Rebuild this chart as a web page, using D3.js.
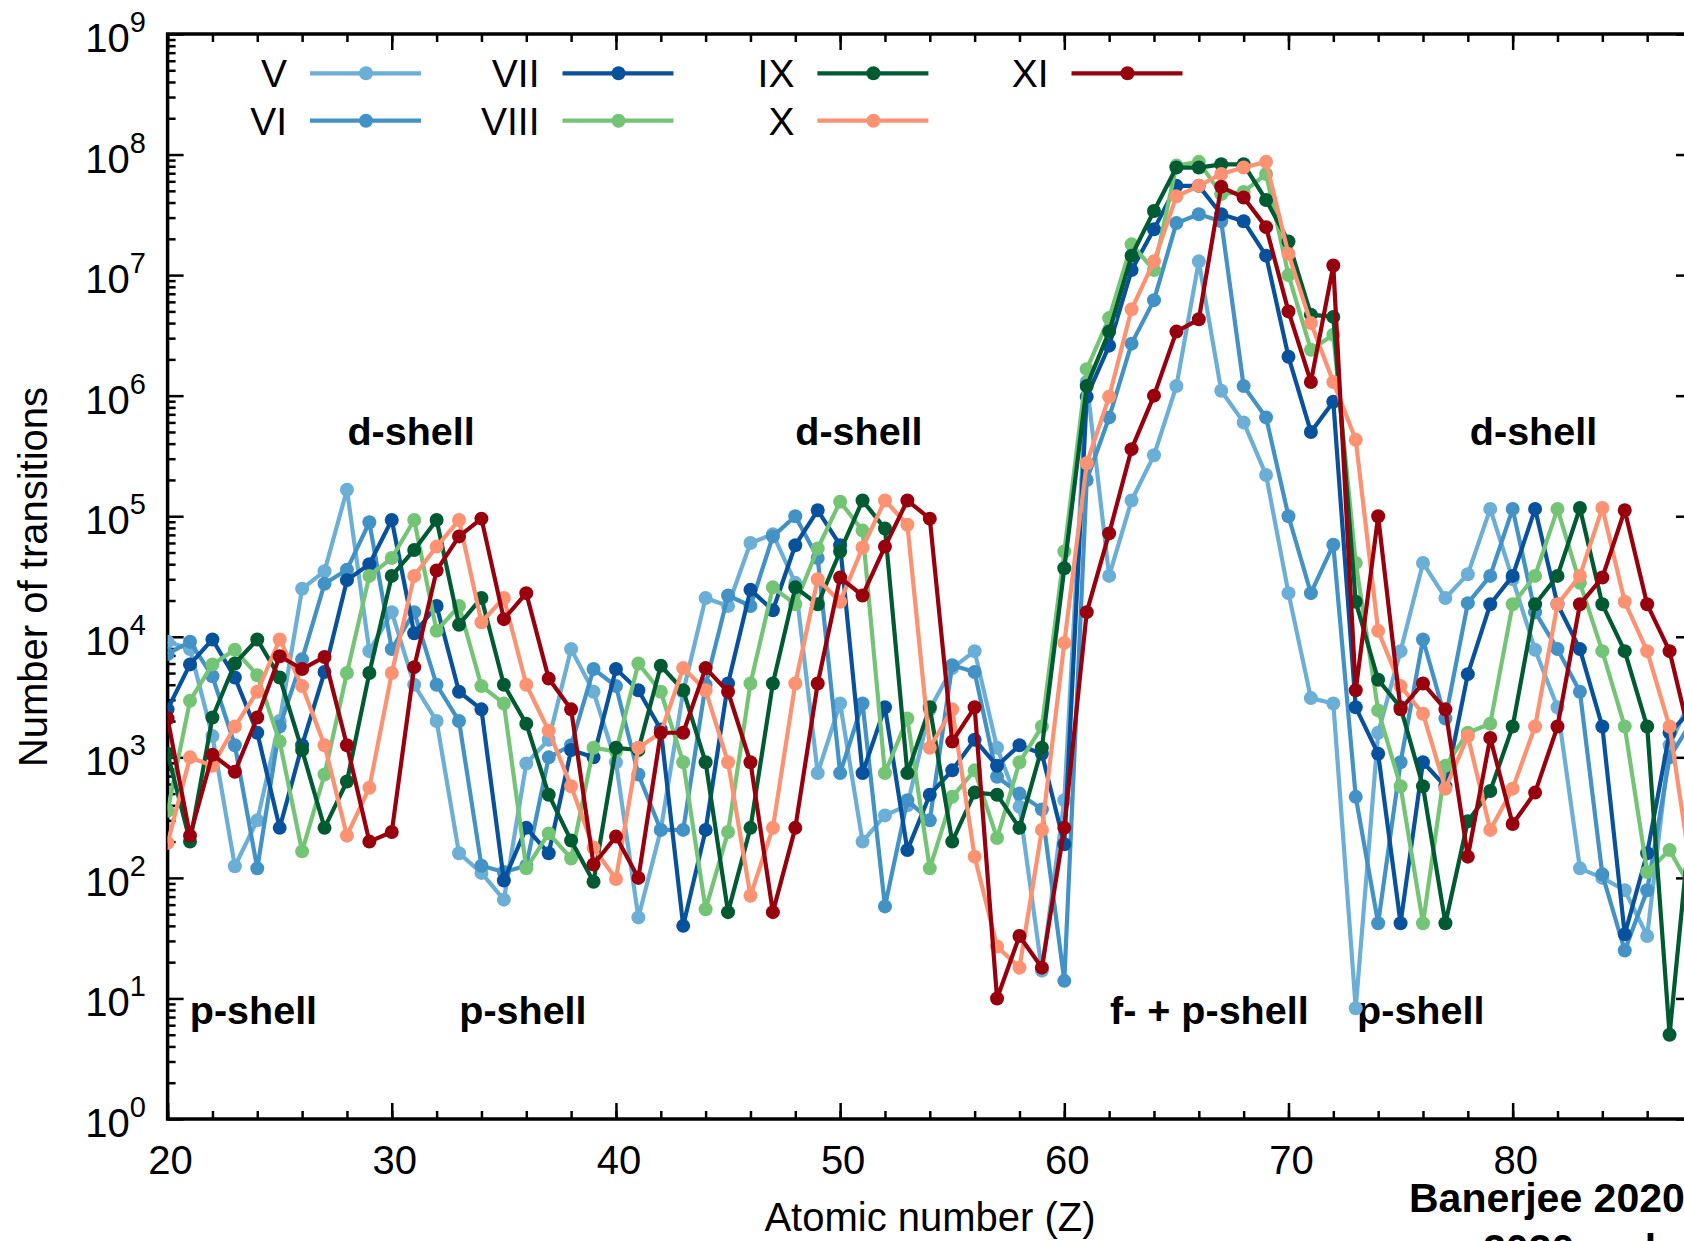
<!DOCTYPE html>
<html>
<head>
<meta charset="utf-8">
<script src="https://cdn.jsdelivr.net/npm/d3@7/dist/d3.min.js"></script>
<style>
  body { margin: 0; background: #fff; }
  svg { display: block; }
  text { font-family: "Liberation Sans", Arial, Helvetica, sans-serif; fill: #000; }
  .note { font-weight: bold; }
</style>
</head>
<body>
<div id="chart"></div>
<script>
/* globals d3:false */

// ---- data -------------------------------------------------------------
const atomicNumbers = [20, 21, 22, 23, 24, 25, 26, 27, 28, 29, 30, 31, 32, 33, 34, 35, 36, 37, 38, 39,
  40, 41, 42, 43, 44, 45, 46, 47, 48, 49, 50, 51, 52, 53, 54, 55, 56, 57, 58, 59,
  60, 61, 62, 63, 64, 65, 66, 67, 68, 69, 70, 71, 72, 73, 74, 75, 76, 77, 78, 79,
  80, 81, 82, 83, 84, 85, 86, 87, 88];

const ionV = [9100, 7900, 1500, 125, 300, 2000, 25000, 35000, 166000, 7600,
  16000, 4000, 2000, 160, 110, 66, 890, 1400, 7900, 3500,
  910, 47, 250, 3500, 21000, 18000, 60000, 71000, 28000, 740,
  2800, 200, 330, 400, 2500, 5500, 7600, 1200, 390, 17,
  440, 1.3e6, 32000, 135000, 320000, 1.2e6, 1.3e7, 1.1e6, 6.0e5, 2.2e5,
  23000, 3100, 2800, 8.3, 1600, 7600, 41000, 21000, 33000, 115000,
  30000, 7800, 2600, 120, 100, 79, 33, 1260, 3200];

const ionVI = [7200, 9100, 4700, 1260, 120, 1800, 6500, 27500, 36000, 89000,
  7900, 16000, 4000, 2000, 126, 112, 126, 1000, 1260, 5400,
  3900, 720, 250, 250, 4000, 22000, 18000, 68000, 100000, 45000,
  740, 2800, 58, 440, 300, 5800, 5100, 690, 500, 370,
  14, 200000, 660000, 2.7e6, 6.2e6, 2.7e7, 3.2e7, 2.8e7, 1.2e6, 6.6e5,
  100000, 23000, 58000, 470, 42, 910, 9500, 2100, 19000, 32000,
  115000, 16000, 7900, 3500, 107, 25, 79, 1000, 2000];

const ionVII = [2500, 5900, 9500, 4600, 1600, 260, 1260, 5100, 29500, 40000,
  93000, 10700, 18000, 3500, 2500, 95, 260, 160, 1150, 1000,
  5400, 3600, 1700, 40, 250, 4100, 24500, 16600, 57500, 112000,
  57500, 740, 2600, 170, 490, 780, 1400, 850, 1260, 1070,
  190, 980000, 2.6e6, 1.1e7, 2.4e7, 5.5e7, 5.5e7, 3.2e7, 2.8e7, 1.45e7,
  2.1e6, 5.0e5, 8.9e5, 2600, 1070, 42, 910, 575, 4900, 18600,
  32000, 115000, 18600, 7900, 1800, 34, 160, 1600, 2500];

const ionVIII = [360, 2950, 5900, 7800, 4800, 1350, 166, 720, 5000, 32000,
  45000, 93000, 11200, 18000, 3900, 2800, 120, 234, 145, 1200,
  1120, 6000, 3500, 910, 55, 240, 4100, 25700, 18600, 54000,
  132000, 76000, 740, 2100, 120, 470, 780, 214, 910, 1800,
  51000, 1.66e6, 4.4e6, 1.8e7, 1.1e7, 8.1e7, 8.7e7, 4.7e7, 4.9e7, 6.9e7,
  1.0e7, 2.4e6, 3.2e6, 41000, 2450, 575, 42, 850, 1600, 1900,
  18600, 32000, 115000, 28000, 7600, 1800, 112, 170, 79];

const ionIX = [1070, 200, 2140, 6000, 9500, 4600, 1150, 260, 630, 5000,
  32000, 52500, 93000, 12600, 21000, 4000, 1900, 490, 204, 93,
  1200, 1150, 5750, 3600, 910, 52, 260, 4100, 25700, 18600,
  51000, 135000, 79000, 740, 2600, 200, 510, 490, 260, 1200,
  37000, 1.2e6, 3.4e6, 1.45e7, 3.4e7, 7.8e7, 7.8e7, 8.3e7, 8.3e7, 4.2e7,
  1.9e7, 4.7e6, 4.5e6, 19500, 4400, 2600, 575, 42, 295, 525,
  1800, 18600, 32000, 117000, 18600, 7600, 1800, 5, 400];

const ionX = [195, 1000, 850, 1800, 3500, 9500, 3900, 1260, 224, 560,
  5000, 32000, 56000, 93000, 13200, 21000, 4000, 1660, 575, 178,
  98, 1200, 1600, 5500, 3600, 910, 71, 260, 4100, 30000,
  19500, 55000, 135000, 85000, 1200, 2500, 150, 27, 18, 250,
  8900, 275000, 980000, 5.2e6, 1.3e7, 4.5e7, 5.5e7, 6.9e7, 7.8e7, 8.7e7,
  1.5e7, 4.0e6, 1.3e6, 4.3e5, 11200, 3900, 2300, 550, 1500, 250,
  550, 1800, 18600, 32000, 117000, 19500, 7600, 1800, 100];

const ionXI = [2100, 224, 1050, 760, 2140, 6900, 5400, 6800, 1260, 200,
  240, 5600, 35500, 68000, 95500, 14000, 23000, 4500, 2500, 129,
  220, 100, 1600, 1600, 5500, 3500, 910, 52, 260, 4100,
  31000, 22000, 56000, 135000, 95500, 1350, 2600, 10, 33, 18,
  260, 16000, 72000, 360000, 1.0e6, 3.4e6, 4.3e6, 5.4e7, 4.4e7, 2.5e7,
  5.0e6, 1.3e6, 1.2e7, 3600, 100000, 2500, 4100, 2500, 150, 1450,
  280, 510, 1800, 18600, 31000, 112000, 18600, 7600, 1260];

const ionNames = ['V', 'VI', 'VII', 'VIII', 'IX', 'X', 'XI'];
const ionColors = ['#6baed6', '#4292c6', '#08519c', '#74c476', '#005a32', '#fc9272', '#99000d'];
const ionValues = [ionV, ionVI, ionVII, ionVIII, ionIX, ionX, ionXI];

const xTickLabels = [20, 30, 40, 50, 60, 70, 80];
const yTickExponents = [0, 1, 2, 3, 4, 5, 6, 7, 8, 9];

const shellNotes = [
  { z: 30.86, row: 'top', label: 'd-shell' },
  { z: 50.84, row: 'top', label: 'd-shell' },
  { z: 80.93, row: 'top', label: 'd-shell' },
  { z: 23.83, row: 'bottom', label: 'p-shell' },
  { z: 35.85, row: 'bottom', label: 'p-shell' },
  { z: 66.47, row: 'bottom', label: 'f- + p-shell' },
  { z: 75.90, row: 'bottom', label: 'p-shell' }
];

// ---- layout -----------------------------------------------------------
const width = 1684;
const height = 1241;
const plot = { left: 167.6, right: 1692, top: 34, bottom: 1119 };
const fontSize = 40;

let svg = d3.select('#chart').append('svg')
  .attr('width', width)
  .attr('height', height);

let x = d3.scaleLinear().domain([20, 88]).range([plot.left, plot.right]);
let y = d3.scaleLog().domain([1, 1e9]).range([plot.bottom, plot.top]);

svg.append('defs').append('clipPath')
  .attr('id', 'plot-clip')
  .append('rect')
    .attr('x', plot.left)
    .attr('y', plot.top)
    .attr('width', plot.right - plot.left)
    .attr('height', plot.bottom - plot.top);

// ---- axes / ticks -----------------------------------------------------
let majorY = yTickExponents.map(e => Math.pow(10, e));
let minorY = [];
yTickExponents.slice(0, -1).forEach(e => {
  [2, 3, 4, 5, 6, 7, 8, 9].forEach(m => minorY.push(m * Math.pow(10, e)));
});
let majorX = [20, 30, 40, 50, 60, 70, 80];
let minorX = [];
for (let z = 20; z <= 88; z += 2) { minorX.push(z); }

function tickGroup(axis, transform) {
  let g = svg.append('g')
    .attr('class', 'ticks')
    .attr('transform', transform)
    .call(axis);
  g.select('.domain').remove();
  g.selectAll('text').remove();
  g.selectAll('line').attr('stroke', '#000').attr('stroke-width', 2.5);
  return g;
}

tickGroup(d3.axisLeft(y).tickValues(majorY).tickSize(-16), `translate(${plot.left},0)`);
tickGroup(d3.axisLeft(y).tickValues(minorY).tickSize(-8), `translate(${plot.left},0)`);
tickGroup(d3.axisRight(y).tickValues(majorY).tickSize(-16), `translate(${plot.right},0)`);
tickGroup(d3.axisRight(y).tickValues(minorY).tickSize(-8), `translate(${plot.right},0)`);
tickGroup(d3.axisBottom(x).tickValues(majorX).tickSize(-16), `translate(0,${plot.bottom})`);
tickGroup(d3.axisBottom(x).tickValues(minorX).tickSize(-8), `translate(0,${plot.bottom})`);
tickGroup(d3.axisTop(x).tickValues(majorX).tickSize(-16), `translate(0,${plot.top})`);
tickGroup(d3.axisTop(x).tickValues(minorX).tickSize(-8), `translate(0,${plot.top})`);

svg.append('rect')
  .attr('x', plot.left)
  .attr('y', plot.top)
  .attr('width', plot.right - plot.left)
  .attr('height', plot.bottom - plot.top)
  .attr('fill', 'none')
  .attr('stroke', '#000')
  .attr('stroke-width', 3.5);

// tick labels
svg.append('g').attr('class', 'x-labels')
  .selectAll('text')
  .data(xTickLabels)
  .enter().append('text')
    .attr('x', d => x(d) + 3)
    .attr('y', 1174)
    .attr('text-anchor', 'middle')
    .style('font-size', fontSize + 'px')
    .text(d => d);

let yLabels = svg.append('g').attr('class', 'y-labels')
  .selectAll('text')
  .data(yTickExponents)
  .enter().append('text')
    .attr('x', 146)
    .attr('y', d => y(Math.pow(10, d)) + 18)
    .attr('text-anchor', 'end')
    .style('font-size', fontSize + 'px');
yLabels.append('tspan').text('10');
yLabels.append('tspan')
  .attr('dy', -20)
  .style('font-size', '29px')
  .text(d => d);

// axis titles
svg.append('text')
  .attr('x', 930)
  .attr('y', 1231)
  .attr('text-anchor', 'middle')
  .style('font-size', fontSize + 'px')
  .text('Atomic number (Z)');

svg.append('text')
  .attr('transform', 'translate(47,577) rotate(-90)')
  .attr('text-anchor', 'middle')
  .style('font-size', fontSize + 'px')
  .text('Number of transitions');

// ---- shell annotations ------------------------------------------------
svg.append('g').attr('class', 'notes')
  .selectAll('text')
  .data(shellNotes)
  .enter().append('text')
    .attr('class', 'note')
    .attr('x', d => x(d.z))
    .attr('y', d => d.row === 'top' ? 445 : 1024)
    .attr('text-anchor', 'middle')
    .style('font-size', '39.5px')
    .text(d => d.label);

// ---- series -----------------------------------------------------------
let line = d3.line()
  .x(d => x(d.z))
  .y(d => y(d.v));

let dataLayer = svg.append('g')
  .attr('class', 'data')
  .attr('clip-path', 'url(#plot-clip)');

ionNames.forEach((name, i) => {
  let points = atomicNumbers.map((z, j) => ({ z: z, v: ionValues[i][j] }));
  let g = dataLayer.append('g').attr('class', 'ion-' + name);

  g.append('path')
    .datum(points)
    .attr('d', line)
    .attr('fill', 'none')
    .attr('stroke', ionColors[i])
    .attr('stroke-width', 4.2)
    .attr('stroke-linejoin', 'round');

  g.selectAll('circle')
    .data(points)
    .enter().append('circle')
      .attr('cx', d => x(d.z))
      .attr('cy', d => y(d.v))
      .attr('r', 7)
      .attr('fill', ionColors[i]);
});

// ---- legend -----------------------------------------------------------
let legendRight = [287, 539.5, 794.4, 1048.5];
let legendRows = [73.3, 120.7];

let legend = svg.append('g').attr('class', 'legend')
  .selectAll('g')
  .data(ionNames)
  .enter().append('g')
    .attr('transform', (d, i) => `translate(${legendRight[Math.floor(i / 2)]},${legendRows[i % 2]})`);

legend.append('text')
  .attr('x', 0)
  .attr('y', 14)
  .attr('text-anchor', 'end')
  .style('font-size', '39px')
  .text(d => d);

legend.append('line')
  .attr('x1', 23)
  .attr('x2', 134)
  .attr('stroke', (d, i) => ionColors[i])
  .attr('stroke-width', 4.2);

legend.append('circle')
  .attr('cx', 79)
  .attr('r', 7)
  .attr('fill', (d, i) => ionColors[i]);

// ---- source note (cut by the frame edge) ------------------------------
svg.append('text')
  .attr('class', 'note')
  .attr('x', 1409)
  .attr('y', 1212)
  .style('font-size', '41px')
  .text('Banerjee 2020');

svg.append('text')
  .attr('class', 'note')
  .attr('x', 1483)
  .attr('y', 1263)
  .style('font-size', '41px')
  .text('2020, sub');
</script>
</body>
</html>
